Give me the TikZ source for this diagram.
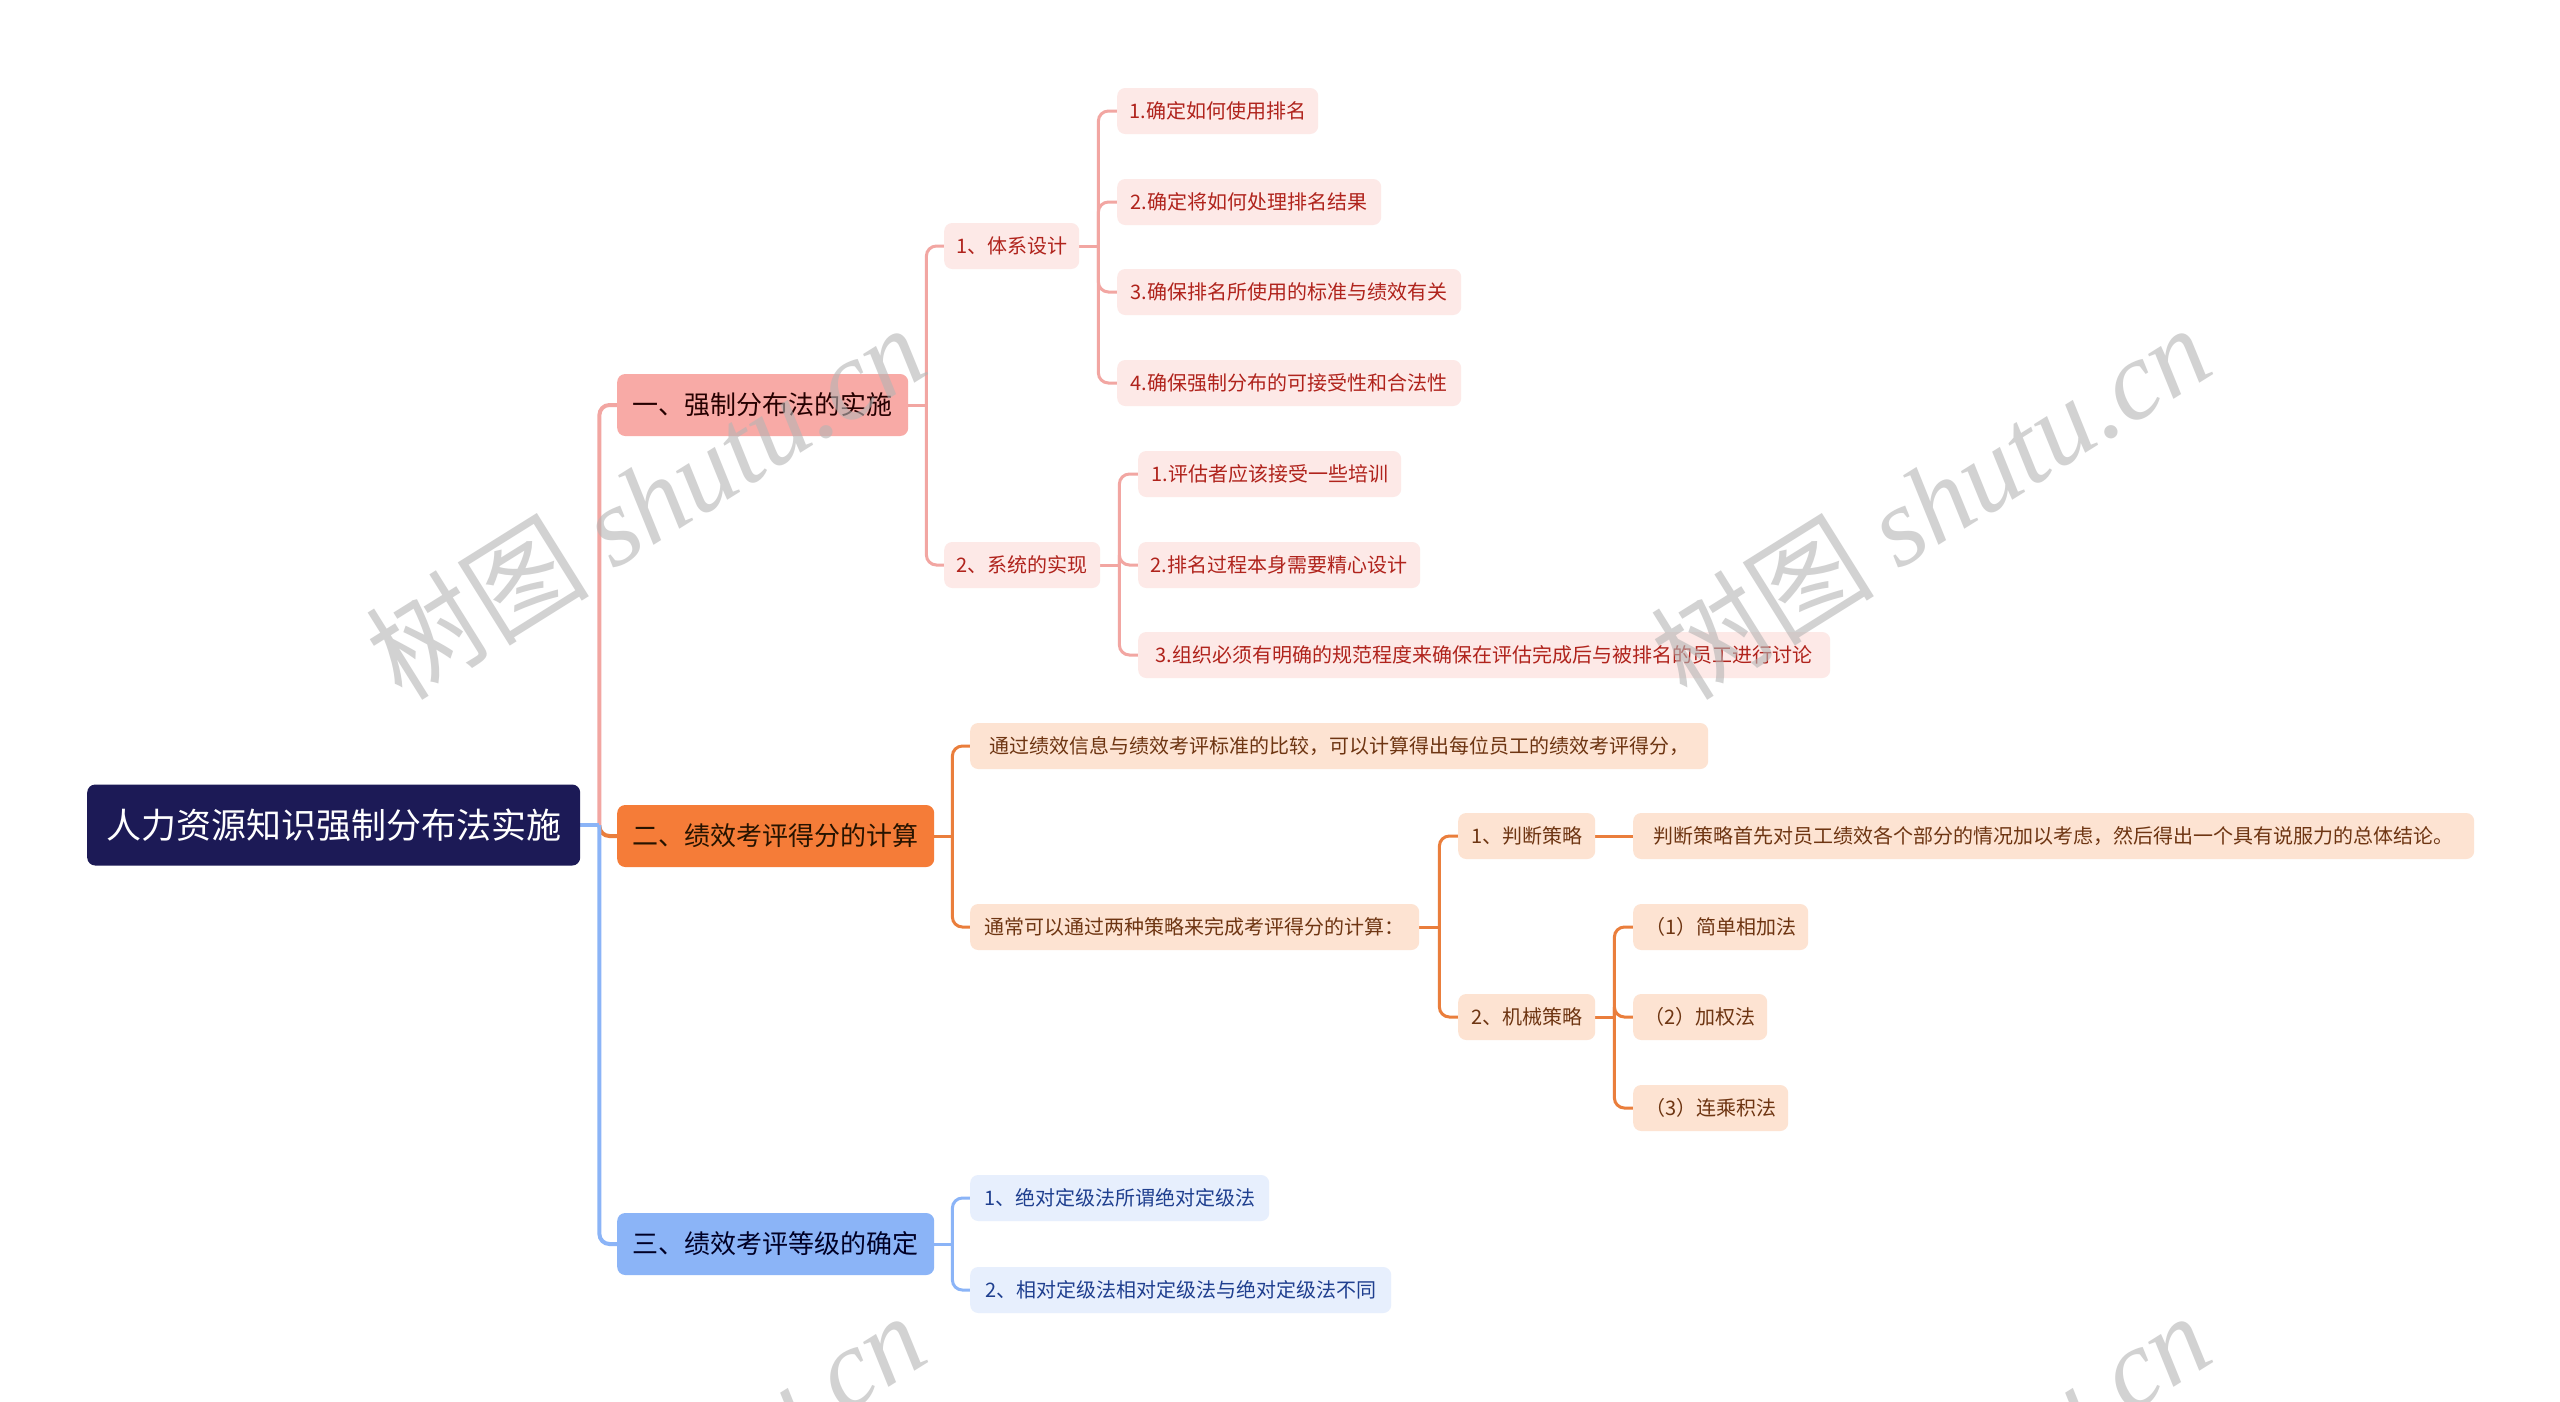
\documentclass[tikz,border=0pt]{standalone}
\usepackage{fontspec}
\setmainfont{Noto Sans CJK SC}
\newfontfamily\wmserif{Liberation Serif}
\usetikzlibrary{backgrounds}
\definecolor{rootfill}{HTML}{1C1A56}
\definecolor{pinkL}{HTML}{F8AAA6}
\definecolor{orangeL}{HTML}{F57C38}
\definecolor{blueL}{HTML}{8BB4F7}
\definecolor{pinkS}{HTML}{FDE9E7}
\definecolor{orangeS}{HTML}{FDE3D2}
\definecolor{blueS}{HTML}{E7EFFD}
\definecolor{pinkT}{HTML}{B0231C}
\definecolor{orangeT}{HTML}{6E3512}
\definecolor{blueT}{HTML}{1F3F8F}
\definecolor{pinkC}{HTML}{F2A6A2}
\definecolor{orangeC}{HTML}{EA7E3C}
\definecolor{blueC}{HTML}{8BB4F7}
\definecolor{wmgray}{HTML}{B4B4B4}
\newcommand\linkto[4]{%
  \draw[#1] (#2.east) -- ([xshift=#4pt]#2.east);
  \draw[#1,rounded corners=10pt] ([xshift=#4pt]#2.east) |- (#3.west);}
\begin{document}
\begin{tikzpicture}[x=1pt,y=-1pt,
  box/.style={rounded corners=8pt, inner xsep=0pt, inner ysep=0pt, anchor=west, align=center},
  rootbox/.style={box, fill=rootfill, text=white, font=\fontsize{35}{40}\selectfont, minimum height=81pt},
  lvA/.style={box, fill=pinkL, text=black!85!red, font=\fontsize{26}{30}\selectfont, minimum height=62pt},
  lvB/.style={box, fill=orangeL, text=black!85!orange, font=\fontsize{26}{30}\selectfont, minimum height=62pt},
  lvC/.style={box, fill=blueL, text=black!85!blue, font=\fontsize{26}{30}\selectfont, minimum height=62pt},
  smA/.style={box, fill=pinkS, text=pinkT, font=\fontsize{20}{24}\selectfont, minimum height=46pt},
  smB/.style={box, fill=orangeS, text=orangeT, font=\fontsize{20}{24}\selectfont, minimum height=46pt},
  smC/.style={box, fill=blueS, text=blueT, font=\fontsize{20}{24}\selectfont, minimum height=46pt},
  bigA/.style={draw=pinkC, line width=4pt},
  bigB/.style={draw=orangeC, line width=4pt},
  bigC/.style={draw=blueC, line width=4pt},
  linA/.style={draw=pinkC, line width=3pt},
  linB/.style={draw=orangeC, line width=3pt},
  linC/.style={draw=blueC, line width=3pt},
  wm/.style={text=wmgray, opacity=0.6, rotate=32, inner sep=0pt}
]
\useasboundingbox (0,0) rectangle (2560,1401);

% root
\node[rootbox, minimum width=493pt] (root) at (87,825) {人力资源知识强制分布法实施};

% level 1
\node[lvA, minimum width=291pt] (b1) at (617,405) {一、强制分布法的实施};
\node[lvB, minimum width=317pt] (b2) at (617,836) {二、绩效考评得分的计算};
\node[lvC, minimum width=317pt] (b3) at (617,1244) {三、绩效考评等级的确定};

% branch 1
\node[smA, minimum width=135pt] (a1) at (944,246) {1、体系设计};
\node[smA, minimum width=156pt] (a2) at (944,565) {2、系统的实现};
\node[smA, minimum width=201pt] (a11) at (1117,111) {1.确定如何使用排名};
\node[smA, minimum width=264pt] (a12) at (1117,202) {2.确定将如何处理排名结果};
\node[smA, minimum width=344pt] (a13) at (1117,292) {3.确保排名所使用的标准与绩效有关};
\node[smA, minimum width=344pt] (a14) at (1117,383) {4.确保强制分布的可接受性和合法性};
\node[smA, minimum width=263pt] (a21) at (1138,474) {1.评估者应该接受一些培训};
\node[smA, minimum width=282pt] (a22) at (1138,565) {2.排名过程本身需要精心设计};
\node[smA, minimum width=692pt] (a23) at (1138,655) {3.组织必须有明确的规范程度来确保在评估完成后与被排名的员工进行讨论};

% branch 2
\node[smB, minimum width=738pt] (c1) at (970,746) {通过绩效信息与绩效考评标准的比较，可以计算得出每位员工的绩效考评得分，};
\node[smB, minimum width=449pt] (c2) at (970,927) {通常可以通过两种策略来完成考评得分的计算：};
\node[smB, minimum width=137pt] (c21) at (1458,836) {1、判断策略};
\node[smB, minimum width=841pt] (c211) at (1633,836) {判断策略首先对员工绩效各个部分的情况加以考虑，然后得出一个具有说服力的总体结论。};
\node[smB, minimum width=137pt] (c22) at (1458,1017) {2、机械策略};
\node[smB, minimum width=175pt] (c221) at (1633,927) {（1）简单相加法};
\node[smB, minimum width=134pt] (c222) at (1633,1017) {（2）加权法};
\node[smB, minimum width=155pt] (c223) at (1633,1108) {（3）连乘积法};

% branch 3
\node[smC, minimum width=299pt] (d1) at (970,1198) {1、绝对定级法所谓绝对定级法};
\node[smC, minimum width=421pt] (d2) at (970,1290) {2、相对定级法相对定级法与绝对定级法不同};

\begin{scope}[on background layer]
  \fill[white] (0,0) rectangle (2560,1401);
  \linkto{bigA}{root}{b1}{19}
  \linkto{bigB}{root}{b2}{19}
  \linkto{bigC}{root}{b3}{19}
  \linkto{linA}{b1}{a1}{18}
  \linkto{linA}{b1}{a2}{18}
  \linkto{linA}{a1}{a11}{19}
  \linkto{linA}{a1}{a12}{19}
  \linkto{linA}{a1}{a13}{19}
  \linkto{linA}{a1}{a14}{19}
  \linkto{linA}{a2}{a21}{19}
  \linkto{linA}{a2}{a22}{19}
  \linkto{linA}{a2}{a23}{19}
  \linkto{linB}{b2}{c1}{18}
  \linkto{linB}{b2}{c2}{18}
  \linkto{linB}{c2}{c21}{20}
  \linkto{linB}{c2}{c22}{20}
  \draw[linB] (c21.east) -- (c211.west);
  \linkto{linB}{c22}{c221}{19}
  \linkto{linB}{c22}{c222}{19}
  \linkto{linB}{c22}{c223}{19}
  \linkto{linC}{b3}{d1}{18}
  \linkto{linC}{b3}{d2}{18}
\end{scope}

% watermarks
\begin{scope}
  \clip (0,0) rectangle (2560,1401);
  \node[wm] (wm1) at (645,501) {\fontsize{112}{120}\selectfont 树图 {\wmserif\itshape shutu.cn}};
  \node[wm] (wm2) at (1930,501) {\fontsize{112}{120}\selectfont 树图 {\wmserif\itshape shutu.cn}};
  \node[wm] (wm3) at (645,1489) {\fontsize{112}{120}\selectfont 树图 {\wmserif\itshape shutu.cn}};
  \node[wm] (wm4) at (1930,1489) {\fontsize{112}{120}\selectfont 树图 {\wmserif\itshape shutu.cn}};
\end{scope}
\end{tikzpicture}
\end{document}
